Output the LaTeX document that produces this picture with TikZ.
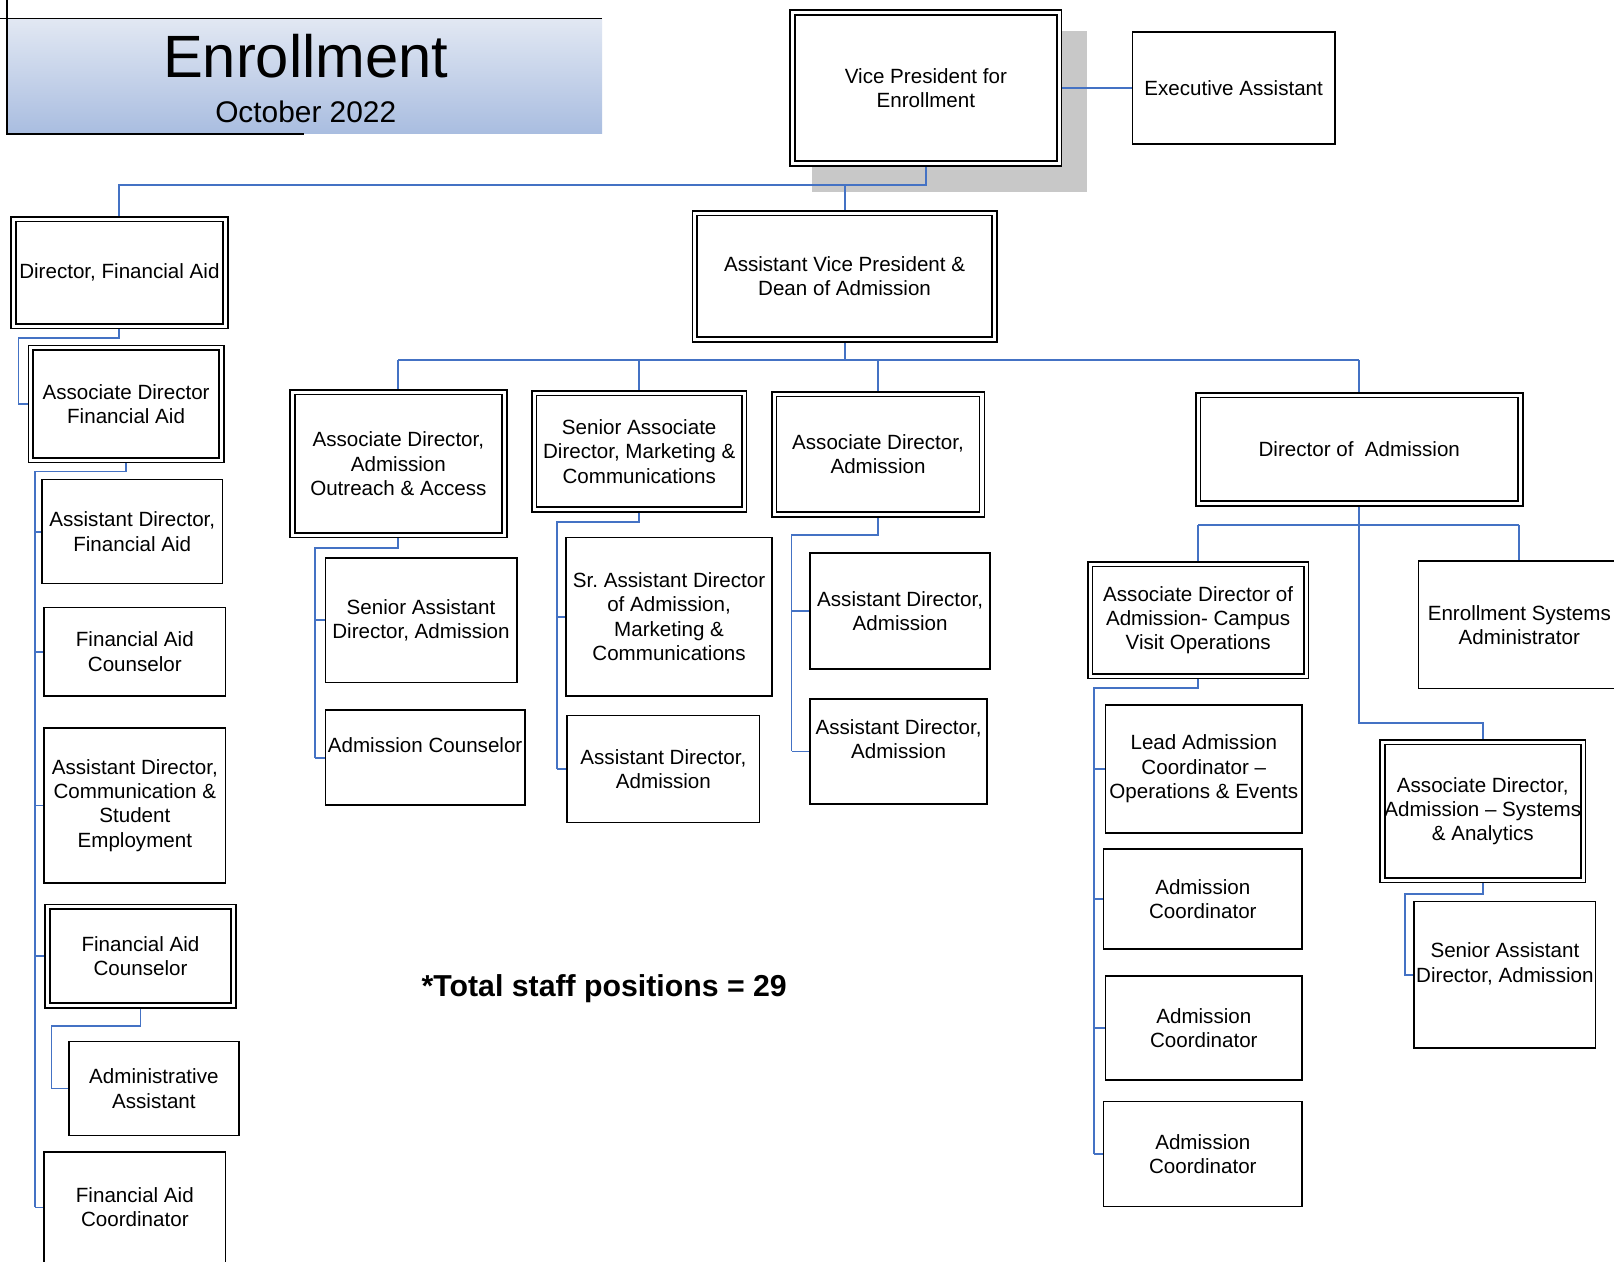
\documentclass[tikz,border=0pt]{standalone}
\usepackage{fontspec}
\setmainfont{Liberation Sans}
\definecolor{linkblue}{HTML}{4472C4}
\definecolor{shadowgray}{HTML}{C8C8C8}
\definecolor{bannertop}{HTML}{E2E8F3}
\definecolor{bannermid}{HTML}{D3DDEE}
\definecolor{bannerbot}{HTML}{A9BDE0}
\tikzset{
  boxsize/.style 2 args={minimum width=#1*0.5pt, minimum height=#2*0.5pt},
  posbox/.style={draw, fill=white, line width=0.75pt, align=center, inner sep=1pt, font=\fontsize{10}{11.8}\selectfont},
  leadbox/.style={posbox, double, double distance=1.5pt, line width=0.8pt, outer sep=1.55pt},
  link/.style={draw=linkblue, line width=0.9pt}
}

\begin{document}
\begin{tikzpicture}[x=0.5pt, y=-0.5pt]
  \useasboundingbox (0,0) rectangle (1568,1226);
  \clip (0,0) rectangle (1568,1226);
  \fill[white] (0,0) rectangle (1568,1226);

  % Title banner - pale blue gradient
  \shade[top color=bannertop, middle color=bannermid, bottom color=bannerbot] (8,18) rectangle (585,130);
  \draw[line width=0.75pt] (0,18) -- (585,18);
  \draw[line width=0.75pt] (7,0) -- (7,130) -- (295,130);
  \node[font=\fontsize{29}{30}\selectfont] (title) at (297,55) {Enrollment};
  \node[font=\fontsize{14.5}{16}\selectfont] (subtitle) at (297,109) {October 2022};

  % Shadow behind the top box
  \fill[shadowgray] (789,30) rectangle (1056,187);

  % Top level
  \node[leadbox, boxsize={259}{147}] (vp) at (899.5,85.5) {Vice President for\\Enrollment};
  \node[posbox, boxsize={197}{109}] (exec) at (1198.5,85.5) {Executive Assistant};
  \node[leadbox, boxsize={291}{123}] (avp) at (820.5,268.5) {Assistant Vice President \&\\Dean of Admission};

  % Financial aid column
  \node[leadbox, boxsize={206}{104}] (dirfa) at (116,265) {Director, Financial Aid};
  \node[leadbox, boxsize={185}{109}] (adfa) at (122.5,392.5) {Associate Director\\Financial Aid};
  \node[posbox, boxsize={175}{101}] (asstfa) at (128.5,516.5) {Assistant Director,\\Financial Aid};
  \node[posbox, boxsize={176}{86}] (facouns) at (131,633) {Financial Aid\\Counselor};
  \node[posbox, boxsize={176}{151}] (asstcomm) at (131,782.5) {Assistant Director,\\Communication \&\\Student\\Employment};
  \node[leadbox, boxsize={181}{96}] (facouns2) at (136.5,929) {Financial Aid\\Counselor};
  \node[posbox, boxsize={165}{91}] (adminasst) at (149.5,1057.5) {Administrative\\Assistant};
  \node[posbox, boxsize={176}{108}] (facoord) at (131,1173) {Financial Aid\\Coordinator};

  % Admission - second row
  \node[leadbox, boxsize={206}{139}] (adout) at (387,450.5) {Associate Director,\\Admission\\Outreach \& Access};
  \node[leadbox, boxsize={204}{113}] (sradmc) at (621,438.5) {Senior Associate\\Director, Marketing \&\\Communications};
  \node[leadbox, boxsize={202}{117}] (adadm) at (853,441.5) {Associate Director,\\Admission};
  \node[leadbox, boxsize={313}{105}] (diradm) at (1320.5,436.5) {Director of\ \ Admission};

  % Admission - third row
  \node[posbox, boxsize={186}{121}] (srasst1) at (409,602.5) {Senior Assistant\\Director, Admission};
  \node[posbox, boxsize={194}{92}] (admcouns) at (413,736) {Admission Counselor\\ \mbox{}};
  \node[posbox, boxsize={200}{154}] (srasstmc) at (650,599) {Sr.\ Assistant Director\\of Admission,\\Marketing \&\\Communications};
  \node[posbox, boxsize={187}{104}] (asstadm1) at (644.5,747) {Assistant Director,\\Admission};
  \node[posbox, boxsize={175}{113}] (asstadm2) at (874.5,593.5) {Assistant Director,\\Admission};
  \node[posbox, boxsize={172}{102}] (asstadm3) at (873,730) {Assistant Director,\\Admission\\ \mbox{}};

  % Director of admission group
  \node[leadbox, boxsize={210}{109}] (adcamp) at (1164,602.5) {Associate Director of\\Admission- Campus\\Visit Operations};
  \node[posbox, boxsize={196}{124}] (esa) at (1476,607) {Enrollment Systems\\Administrator};
  \node[leadbox, boxsize={195}{134}] (adsys) at (1440.5,788) {Associate Director,\\Admission -- Systems\\\& Analytics};
  \node[posbox, boxsize={176}{142}] (srasst2) at (1462,947) {Senior Assistant\\Director, Admission\\ \mbox{}};
  \node[posbox, boxsize={191}{124}] (leadac) at (1169.5,747) {Lead Admission\\Coordinator --\\Operations \& Events};
  \node[posbox, boxsize={193}{97}] (ac1) at (1168.5,873.5) {Admission\\Coordinator};
  \node[posbox, boxsize={191}{101}] (ac2) at (1169.5,998.5) {Admission\\Coordinator};
  \node[posbox, boxsize={193}{102}] (ac3) at (1168.5,1121) {Admission\\Coordinator};

  % Staff count
  \node[font=\bfseries\fontsize{14.7}{16}\selectfont] (total) at (587,960) {*Total staff positions = 29};

  % Spines for the stacked reports
  \coordinate (faspineA) at (18,0);
  \coordinate (faspineB) at (34,0);
  \coordinate (faspineC) at (50,0);
  \coordinate (outspine) at (306,0);
  \coordinate (mcspine) at (541,0);
  \coordinate (admspine) at (769,0);
  \coordinate (campspine) at (1063,0);
  \coordinate (sysspine) at (1365,0);

  % Links from the vice president
  \draw[link] (vp.east) -- (exec.west);
  \draw[link] (vp.south) -- ++(0,18) coordinate (vpbus) -| (dirfa.north);
  \draw[link] (avp.north) -- (avp.north |- vpbus);

  % Links from the assistant vice president
  \draw[link] (avp.south) -- ++(0,17) coordinate (avpbus);
  \draw[link] (adout.north |- avpbus) -- (diradm.north |- avpbus);
  \foreach \n in {adout, sradmc, adadm, diradm}
    \draw[link] (\n.north |- avpbus) -- (\n.north);

  % Financial aid links
  \draw[link] (dirfa.south) -- ++(0,8) -| (faspineA |- adfa.west) -- (adfa.west);
  \draw[link] (adfa.south) -- ++(0,8) -| (faspineB |- facoord.west);
  \foreach \n in {asstfa, facouns, asstcomm, facouns2, facoord}
    \draw[link] (faspineB |- \n.west) -- (\n.west);
  \draw[link] (facouns2.south) -- ++(0,17) -| (faspineC |- adminasst.west) -- (adminasst.west);

  % Admission links
  \draw[link] (adout.south) -- ++(0,9) -| (outspine |- admcouns.west);
  \foreach \n in {srasst1, admcouns}
    \draw[link] (outspine |- \n.west) -- (\n.west);
  \draw[link] (sradmc.south) -- ++(0,9) -| (mcspine |- asstadm1.west);
  \foreach \n in {srasstmc, asstadm1}
    \draw[link] (mcspine |- \n.west) -- (\n.west);
  \draw[link] (adadm.south) -- ++(0,17) -| (admspine |- asstadm3.west);
  \foreach \n in {asstadm2, asstadm3}
    \draw[link] (admspine |- \n.west) -- (\n.west);

  % Director of admission links
  \draw[link] (diradm.south) -- ++(0,18) coordinate (dirbus);
  \draw[link] (adcamp.north |- dirbus) -- (esa.north |- dirbus);
  \foreach \n in {adcamp, esa}
    \draw[link] (\n.north |- dirbus) -- (\n.north);
  \draw[link] (dirbus) -- ++(0,192) -| (adsys.north);
  \draw[link] (adcamp.south) -- ++(0,8) -| (campspine |- ac3.west);
  \foreach \n in {leadac, ac1, ac2, ac3}
    \draw[link] (campspine |- \n.west) -- (\n.west);
  \draw[link] (adsys.south) -- ++(0,10) -| (sysspine |- srasst2.west) -- (srasst2.west);
\end{tikzpicture}
\end{document}
